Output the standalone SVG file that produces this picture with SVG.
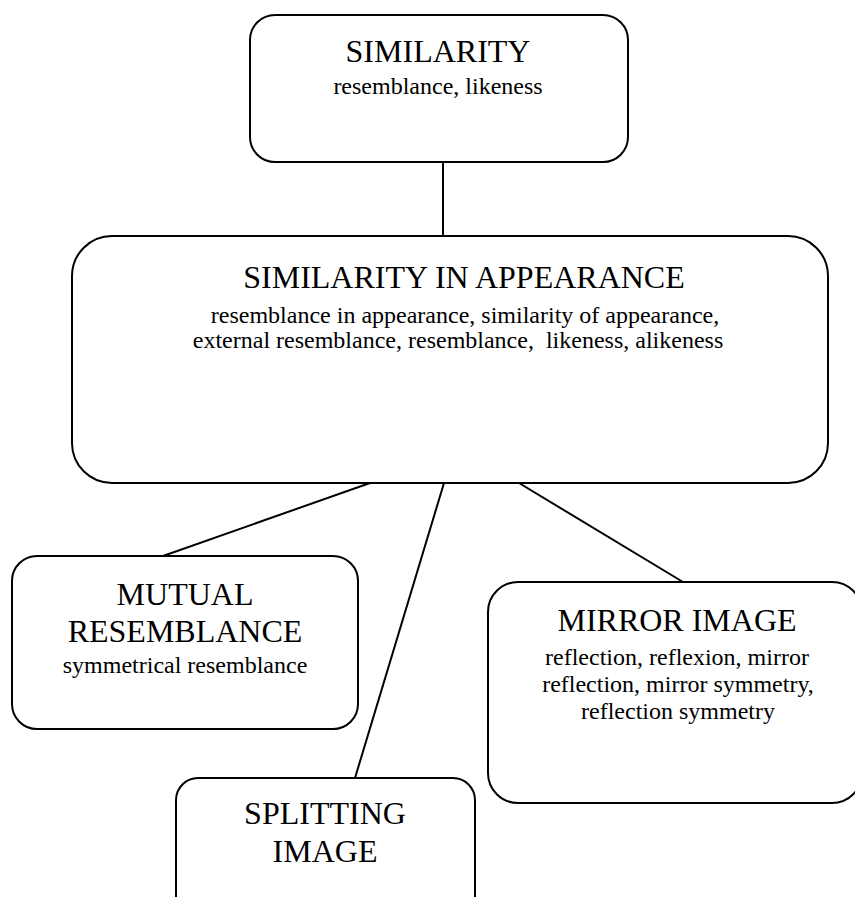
<svg xmlns="http://www.w3.org/2000/svg" width="855" height="897" viewBox="0 0 855 897">
<style>
.box{fill:#fff;stroke:#000;stroke-width:2}
.ln{stroke:#000;stroke-width:2;fill:none}
text{font-family:"Liberation Serif","Times New Roman",serif;fill:#000;text-anchor:middle}
.t{font-size:32px}
.s{font-size:24px}
</style>
<rect width="855" height="897" fill="#fff"/>
<g id="connectors">
<line class="ln" x1="443" y1="162" x2="443" y2="236"/>
<line class="ln" x1="370" y1="483" x2="163" y2="556"/>
<line class="ln" x1="444" y1="483" x2="355" y2="778"/>
<line class="ln" x1="519" y1="483" x2="683" y2="582"/>
</g>
<g id="similarity">
<rect class="box" x="250" y="15" width="378" height="147" rx="25"/>
<text class="t" x="438" y="62">SIMILARITY</text>
<text class="s" x="438" y="94">resemblance, likeness</text>
</g>
<g id="similarity-in-appearance">
<rect class="box" x="72" y="236" width="756" height="247" rx="40"/>
<text class="t" x="464" y="288">SIMILARITY IN APPEARANCE</text>
<text class="s" x="465" y="323">resemblance in appearance, similarity of appearance,</text>
<text class="s" x="458" y="348" xml:space="preserve">external resemblance, resemblance,  likeness, alikeness</text>
</g>
<g id="mutual-resemblance">
<rect class="box" x="12" y="556" width="346" height="173" rx="25"/>
<text class="t" x="185" y="605">MUTUAL</text>
<text class="t" x="185" y="642">RESEMBLANCE</text>
<text class="s" x="185" y="673">symmetrical resemblance</text>
</g>
<g id="mirror-image">
<rect class="box" x="488" y="582" width="374" height="221" rx="30"/>
<text class="t" x="677" y="631">MIRROR IMAGE</text>
<text class="s" x="677" y="665">reflection, reflexion, mirror</text>
<text class="s" x="678" y="692">reflection, mirror symmetry,</text>
<text class="s" x="678" y="719">reflection symmetry</text>
</g>
<g id="splitting-image">
<rect class="box" x="176" y="778" width="299" height="140" rx="22"/>
<text class="t" x="325" y="824">SPLITTING</text>
<text class="t" x="325" y="862">IMAGE</text>
</g>
</svg>
